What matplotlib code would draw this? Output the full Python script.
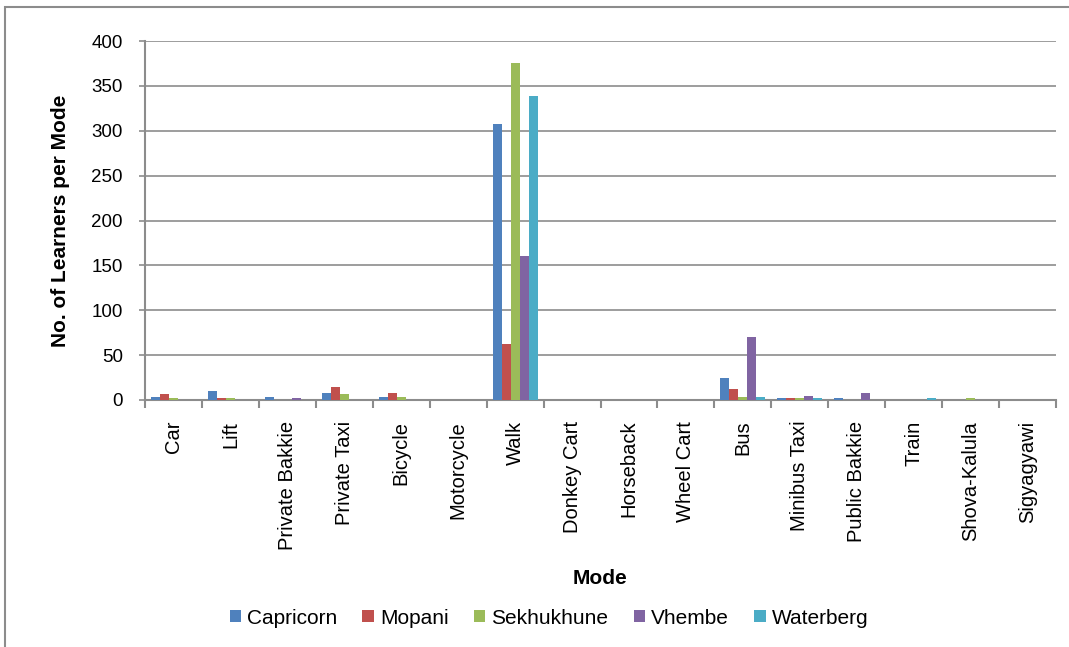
import numpy as np
import matplotlib.pyplot as plt
import matplotlib.transforms as mtransforms
from matplotlib.patches import Rectangle

plt.rcParams['font.family'] = ['Liberation Sans', 'DejaVu Sans']

modes = ['Car', 'Lift', 'Private Bakkie', 'Private Taxi', 'Bicycle', 'Motorcycle',
         'Walk', 'Donkey Cart', 'Horseback', 'Wheel Cart', 'Bus', 'Minibus Taxi',
         'Public Bakkie', 'Train', 'Shova-Kalula', 'Sigyagyawi']

capricorn  = [3, 10, 3, 8, 3, 0, 307, 0, 0, 0, 24, 2, 2, 0, 0, 0]
mopani     = [7, 2, 0, 14, 8, 0, 62, 0, 0, 0, 12, 2, 0, 0, 0, 0]
sekhukhune = [2, 2, 0, 7, 3, 0, 375, 0, 0, 0, 3, 2, 0, 0, 2, 0]
vhembe     = [0, 0, 2, 0, 0, 0, 160, 0, 0, 0, 70, 4, 8, 0, 0, 0]
waterberg  = [0, 0, 0, 0, 0, 0, 339, 0, 0, 0, 3, 2, 0, 2, 0, 0]

districts = ['Capricorn', 'Mopani', 'Sekhukhune', 'Vhembe', 'Waterberg']
series = [capricorn, mopani, sekhukhune, vhembe, waterberg]
colors = ['#4F81BD', '#C0504D', '#9BBB59', '#8064A2', '#4BACC6']

fig = plt.figure(figsize=(10.69, 6.47), dpi=100)
ax = fig.add_axes([145 / 1069, 1 - 400 / 647, 911 / 1069, 359 / 647])

# outer chart frame
fig.patches.append(Rectangle((5 / 1069, -0.1), 1.2, 1 - 7 / 647 + 0.1,
                             transform=fig.transFigure, fill=False,
                             edgecolor='#8c8c8c', linewidth=1.5))

x = np.arange(len(modes))
w = 0.158
for i, (name, vals, c) in enumerate(zip(districts, series, colors)):
    ax.bar(x + (i - 2) * w, vals, width=w, color=c, label=name, zorder=3)

ax.set_xlim(-0.5, len(modes) - 0.5)
ax.set_ylim(0, 400)
ax.set_yticks(range(0, 401, 50))
ax.yaxis.grid(True, color='#8c8c8c', linewidth=1.2, zorder=0)

# category separators as major ticks, names on minor ticks
ax.set_xticks(np.arange(-0.5, len(modes), 1), minor=False)
ax.set_xticklabels([])
ax.set_xticks(x, minor=True)
ax.set_xticklabels(modes, minor=True, rotation=90, fontsize=14.5)
shift = mtransforms.ScaledTranslation(4 / 100, 0, fig.dpi_scale_trans)
for lbl in ax.get_xticklabels(minor=True):
    lbl.set_transform(lbl.get_transform() + shift)
ax.tick_params(axis='x', which='major', length=6, width=1.5, color='#8c8c8c')
ax.tick_params(axis='x', which='minor', length=0, pad=15)
ax.tick_params(axis='y', length=4, width=1.2, color='#8c8c8c', labelsize=13.5, pad=12)

for s in ['top', 'right']:
    ax.spines[s].set_visible(False)
for s in ['left', 'bottom']:
    ax.spines[s].set_color('#8c8c8c')
    ax.spines[s].set_linewidth(1.5)

ax.set_xlabel('Mode', fontsize=15, fontweight='bold', va='center')
ax.xaxis.set_label_coords(0.5, (400 - 578) / 359)
ax.set_ylabel('No. of Learners per Mode', fontsize=15, fontweight='bold', va='center')
ax.yaxis.set_label_coords((61 - 145) / 911, 0.5)

fig.legend(loc='center', bbox_to_anchor=(549 / 1069, 1 - 618 / 647), ncol=5, frameon=False,
           fontsize=15, handlelength=0.55, handleheight=0.55, handletextpad=0.3,
           columnspacing=1.2)

fig.savefig('out.png', dpi=100)
